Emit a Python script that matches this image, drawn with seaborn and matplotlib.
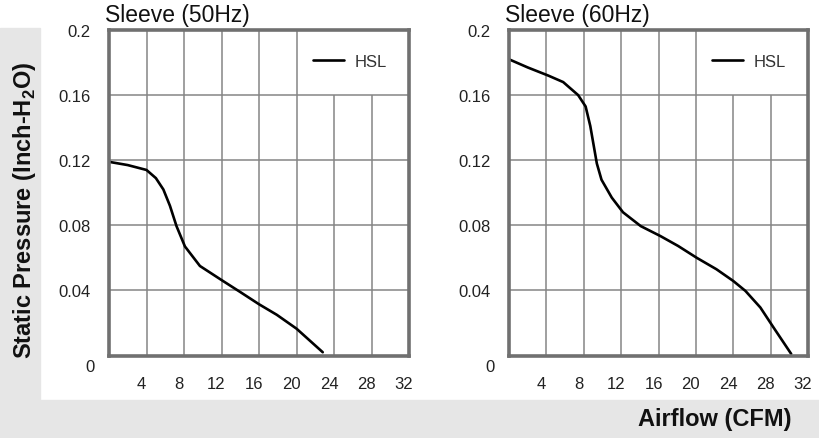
#! /usr/bin/env python3

import matplotlib
matplotlib.use("Agg")
import matplotlib.pyplot as plt
from matplotlib.patches import Rectangle
from matplotlib.transforms import ScaledTranslation
import seaborn as sns
import pandas as pd

# values (airflow CFM, static pressure inch-H2O)
airflow_50hz = [0, 2, 4, 5, 5.8, 6.5, 7.2, 8.1, 9.7, 12.1, 14, 16, 17.9, 20, 22.8]
pressure_50hz = [0.119, 0.117, 0.114, 0.109, 0.102, 0.092, 0.0795, 0.067, 0.055,
                 0.046, 0.039, 0.0315, 0.025, 0.0165, 0.002]

airflow_60hz = [0, 2, 4.2, 5.8, 7.4, 8.2, 8.7, 9.4, 9.9, 11, 12.2, 14.1, 16.2,
                18.1, 20.1, 22.2, 24, 25.3, 26.9, 28.3, 30.2]
pressure_60hz = [0.182, 0.177, 0.172, 0.168, 0.160, 0.153, 0.141, 0.118, 0.108,
                 0.097, 0.088, 0.0795, 0.0734, 0.0673, 0.060, 0.053, 0.0458,
                 0.0397, 0.0295, 0.0173, 0.001]

panel_titles = ["Sleeve (50Hz)", "Sleeve (60Hz)"]
series_name = "HSL"
x_ticks = [4, 8, 12, 16, 20, 24, 28, 32]
y_ticks = [0, 0.04, 0.08, 0.12, 0.16, 0.2]
y_tick_labels = ["", "0.04", "0.08", "0.12", "0.16", "0.2"]

sns.set_theme(style="white")
plt.rcParams["font.family"] = ["Liberation Sans", "DejaVu Sans"]
plt.rcParams["mathtext.fontset"] = "custom"
plt.rcParams["mathtext.rm"] = "Liberation Sans"
plt.rcParams["mathtext.bf"] = "Liberation Sans:bold"

W, H = 819, 439
fig = plt.figure(figsize=(W / 100, H / 100), dpi=100, facecolor="white")

# light gray band behind the charts (left and bottom)
gray = "#e6e6e6"
fig.patches.append(Rectangle((0, 0), 40 / W, (H - 29) / H, transform=fig.transFigure,
                             color=gray, zorder=0))
fig.patches.append(Rectangle((0, 0), 1, 38 / H, transform=fig.transFigure,
                             color=gray, zorder=0))

frames = [(109, 409), (509, 808)]
top_px, bottom_px = 31, 356.5
datasets = [(airflow_50hz, pressure_50hz), (airflow_60hz, pressure_60hz)]

for (l, r), title, (xs, ys) in zip(frames, panel_titles, datasets):
    ax = fig.add_axes([l / W, (H - bottom_px) / H, (r - l) / W, (bottom_px - top_px) / H])
    ax.set_facecolor("white")
    ax.set_xlim(0, 32)
    ax.set_ylim(0, 0.2)

    grid_kw = dict(color="#858585", lw=1.1, zorder=1)
    for yv in [0.04, 0.08, 0.12, 0.16]:
        ax.axhline(yv, **grid_kw)
    for xv in [4, 8, 12, 16, 20]:
        ax.axvline(xv, **grid_kw)
    ax.vlines([24, 28], 0, 0.16, **grid_kw)

    df = pd.DataFrame({"airflow": xs, "pressure": ys})
    sns.lineplot(data=df, x="airflow", y="pressure", ax=ax, color="black", lw=1.9,
                 sort=False, label=series_name, zorder=3)

    ax.set_xticks(x_ticks)
    ax.set_xticklabels([str(t) for t in x_ticks])
    ax.set_yticks(y_ticks)
    ax.set_yticklabels(y_tick_labels)
    ax.tick_params(axis="both", length=0, labelsize=12, labelcolor="#222222")
    ax.tick_params(axis="x", pad=15)
    ax.tick_params(axis="y", pad=13)
    # the zero label sits below the frame
    ax.annotate("0", xy=(0, 0), xycoords=("axes fraction", "data"),
                xytext=(-14, -11), textcoords="offset pixels",
                ha="right", va="center", fontsize=12, color="#222222")
    ax.set_xlabel("")
    ax.set_ylabel("")

    for sp in ax.spines.values():
        sp.set_color("#707070")
        sp.set_linewidth(2.6)
        sp.set_zorder(4)

    ax.text(-0.012, 1.012, title, transform=ax.transAxes, ha="left", va="bottom",
            fontsize=16.5, color="#111111")

    leg = ax.legend(loc="upper right", bbox_to_anchor=(0.975, 0.972), frameon=False,
                    fontsize=12, handlelength=1.9, handletextpad=0.6)
    for t in leg.get_texts():
        t.set_color("#333333")

    # x tick labels sit a little left of their grid lines
    shift = ScaledTranslation(-5 / 100, 0, fig.dpi_scale_trans)
    for tk in ax.xaxis.get_major_ticks():
        tk.label1.set_transform(tk.label1.get_transform() + shift)

fig.text(25 / W, 1 - 210 / H, "Static Pressure (Inch-H$_\\mathbf{2}$O)", rotation=90,
         ha="center", va="center", fontsize=17, fontweight="bold", color="#111111")
fig.text(792 / W, 1 - 420 / H, "Airflow (CFM)", ha="right", va="center",
         fontsize=17, fontweight="bold", color="#111111")

fig.savefig("out.png", dpi=100, facecolor=fig.get_facecolor())
